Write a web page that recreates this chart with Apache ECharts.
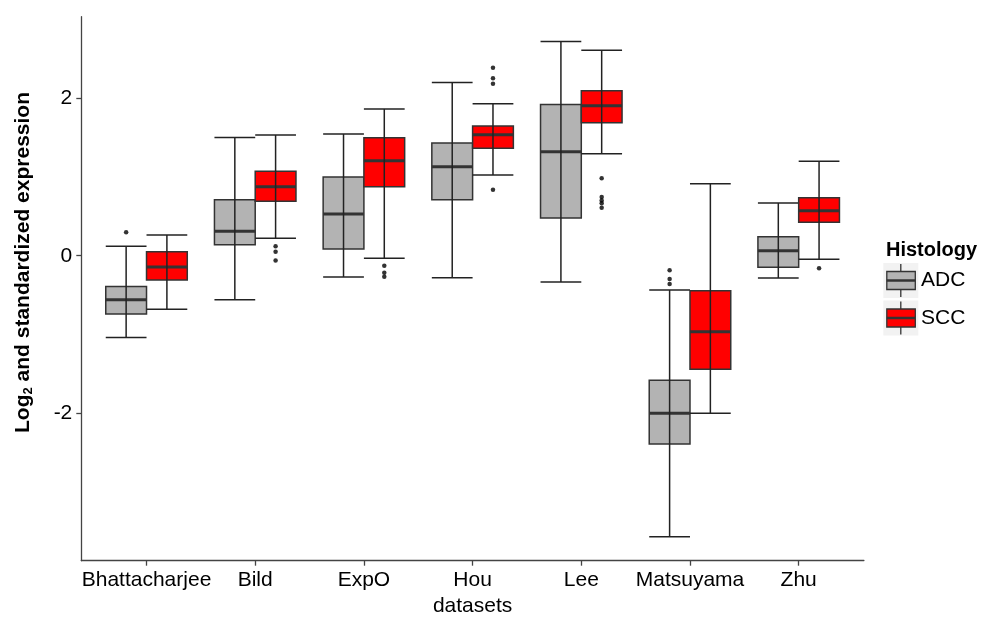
<!DOCTYPE html>
<html><head><meta charset="utf-8">
<script src="https://cdn.jsdelivr.net/npm/echarts@6/dist/echarts.min.js"></script>
<style>html,body{margin:0;padding:0;background:#fff}#c{width:981px;height:617px}</style>
</head><body><div id="c"></div>
<script>
// ---- data ----
const categories = ['Bhattacharjee', 'Bild', 'ExpO', 'Hou', 'Lee', 'Matsuyama', 'Zhu'];
// [lower whisker, Q1, median, Q3, upper whisker]
const adcStats = [
  [-1.04, -0.74, -0.56, -0.39, 0.12],
  [-0.56, 0.14, 0.31, 0.71, 1.50],
  [-0.27, 0.085, 0.53, 1.00, 1.545],
  [-0.28, 0.71, 1.13, 1.43, 2.20],
  [-0.335, 0.48, 1.32, 1.92, 2.72],
  [-3.57, -2.39, -2.00, -1.58, -0.436],
  [-0.283, -0.148, 0.063, 0.241, 0.669]
];
const sccStats = [
  [-0.68, -0.31, -0.143, 0.051, 0.263],
  [0.221, 0.691, 0.876, 1.072, 1.533],
  [-0.033, 0.876, 1.206, 1.498, 1.863],
  [1.025, 1.364, 1.537, 1.647, 1.93],
  [1.295, 1.689, 1.905, 2.095, 2.608],
  [-2.001, -1.443, -0.965, -0.444, 0.914],
  [-0.046, 0.424, 0.571, 0.737, 1.198]
];
const adcOutliers = [[0.297], [], [], [], [], [-0.185, -0.296, -0.36], []];
const sccOutliers = [[], [0.12, 0.05, -0.06], [-0.127, -0.216, -0.267], [2.387, 2.253, 2.184, 0.838], [0.983, 0.745, 0.70, 0.665, 0.61], [], [-0.16]];
const yTicks = [-2, 0, 2];
const seriesNames = ['ADC', 'SCC'];
const seriesColors = ['#B3B3B3', '#FF0000'];

// ---- chart ----
const DODGE = 0.1875, HALF = 0.1875;
const LINE = '#333333';

function boxSeries(name, stats, offset, fill) {
  return {
    type: 'custom',
    name: name,
    data: stats.map((s, i) => [i + 1].concat(s)),
    encode: { x: 0, y: [1, 2, 3, 4, 5] },
    renderItem: function (params, api) {
      const cx = api.value(0) + offset;
      const lo = api.value(1), q1 = api.value(2), med = api.value(3), q3 = api.value(4), hi = api.value(5);
      const pTL = api.coord([cx - HALF, q3]);
      const pBR = api.coord([cx + HALF, q1]);
      const pLo = api.coord([cx, lo]);
      const pHi = api.coord([cx, hi]);
      const pMed = api.coord([cx, med]);
      const l = pTL[0], r = pBR[0], c = pLo[0];
      return {
        type: 'group',
        children: [
          { type: 'rect', shape: { x: l, y: pTL[1], width: r - l, height: pBR[1] - pTL[1] },
            style: { fill: fill, stroke: LINE, lineWidth: 1.5 } },
          { type: 'line', shape: { x1: l, y1: pMed[1], x2: r, y2: pMed[1] },
            style: { stroke: LINE, lineWidth: 3 } },
          { type: 'line', shape: { x1: c, y1: pLo[1], x2: c, y2: pHi[1] },
            style: { stroke: '#222', lineWidth: 1.5 } },
          { type: 'line', shape: { x1: l, y1: pLo[1], x2: r, y2: pLo[1] },
            style: { stroke: '#222', lineWidth: 1.5 } },
          { type: 'line', shape: { x1: l, y1: pHi[1], x2: r, y2: pHi[1] },
            style: { stroke: '#222', lineWidth: 1.5 } }
        ]
      };
    },
    z: 2
  };
}

function outlierSeries(list, offset) {
  const data = [];
  list.forEach((vals, i) => vals.forEach(v => data.push([i + 1 + offset, v])));
  return {
    type: 'scatter', data: data, symbol: 'circle', symbolSize: 4.5,
    itemStyle: { color: '#000' }, z: 3, silent: true
  };
}

const FONT = 'Liberation Sans, Arial, sans-serif';
const chart = echarts.init(document.getElementById('c'), null, { renderer: 'canvas' });

const legendX = 883.3;
function legendKey(y0, fill) {
  return [
    { type: 'rect', shape: { x: legendX, y: y0, width: 35, height: 35 }, style: { fill: '#F2F2F2' } },
    { type: 'line', shape: { x1: legendX + 17.5, y1: y0 + 1, x2: legendX + 17.5, y2: y0 + 34 }, style: { stroke: LINE, lineWidth: 1.3 } },
    { type: 'rect', shape: { x: legendX + 3.5, y: y0 + 8.5, width: 28.5, height: 18 }, style: { fill: fill, stroke: LINE, lineWidth: 1.3 } },
    { type: 'line', shape: { x1: legendX + 3.5, y1: y0 + 17.5, x2: legendX + 32, y2: y0 + 17.5 }, style: { stroke: LINE, lineWidth: 2.5 } }
  ];
}

const option = {
  animation: false,
  backgroundColor: '#fff',
  grid: { left: 81.3, right: 117.1, top: 16.7, bottom: 56.3, containLabel: false, outerBoundsMode: 'none' },
  xAxis: {
    type: 'value', min: 0.4, max: 7.6,
    name: 'datasets', nameLocation: 'middle', nameGap: 32,
    nameTextStyle: { fontFamily: FONT, fontSize: 21, color: '#000' },
    axisLine: { show: true, onZero: false, lineStyle: { color: '#444', width: 1.3 } },
    axisTick: { show: true, length: 5, customValues: [1, 2, 3, 4, 5, 6, 7], lineStyle: { color: '#444', width: 1.3 } },
    axisLabel: { customValues: [1, 2, 3, 4, 5, 6, 7], formatter: v => categories[Math.round(v) - 1],
      fontFamily: FONT, fontSize: 21, color: '#000', margin: 9 },
    splitLine: { show: false }
  },
  yAxis: {
    type: 'value', min: -3.873, max: 3.035,
    axisLine: { show: true, onZero: false, lineStyle: { color: '#444', width: 1.3 } },
    axisTick: { show: true, length: 5, customValues: yTicks, lineStyle: { color: '#444', width: 1.3 } },
    axisLabel: { customValues: yTicks, fontFamily: FONT, fontSize: 21, color: '#000', margin: 9 },
    splitLine: { show: false }
  },
  series: [
    boxSeries(seriesNames[0], adcStats, -DODGE, seriesColors[0]),
    boxSeries(seriesNames[1], sccStats, DODGE, seriesColors[1]),
    outlierSeries(adcOutliers, -DODGE),
    outlierSeries(sccOutliers, DODGE)
  ],
  graphic: [
    { type: 'text', x: 23, y: 262.5, rotation: Math.PI / 2,
      style: { text: '{b|Log}{s|2}{b| and standardized expression}', align: 'center', verticalAlign: 'middle',
        fill: '#000',
        rich: {
          b: { fontFamily: FONT, fontSize: 21, fontWeight: 'bold', fill: '#000' },
          s: { fontFamily: FONT, fontSize: 13, fontWeight: 'bold', fill: '#000', verticalAlign: 'bottom', padding: [10, 0, 0, 0] }
        } } },
    { type: 'text', x: 886, y: 250.7,
      style: { text: 'Histology', fontFamily: FONT, fontSize: 20, fontWeight: 'bold', fill: '#000', verticalAlign: 'middle' } },
    { type: 'group', children: legendKey(263, seriesColors[0]) },
    { type: 'group', children: legendKey(300.5, seriesColors[1]) },
    { type: 'text', x: 921, y: 280.5,
      style: { text: seriesNames[0], fontFamily: FONT, fontSize: 21, fill: '#000', verticalAlign: 'middle' } },
    { type: 'text', x: 921, y: 318,
      style: { text: seriesNames[1], fontFamily: FONT, fontSize: 21, fill: '#000', verticalAlign: 'middle' } }
  ]
};
chart.setOption(option);
</script>
</body></html>
